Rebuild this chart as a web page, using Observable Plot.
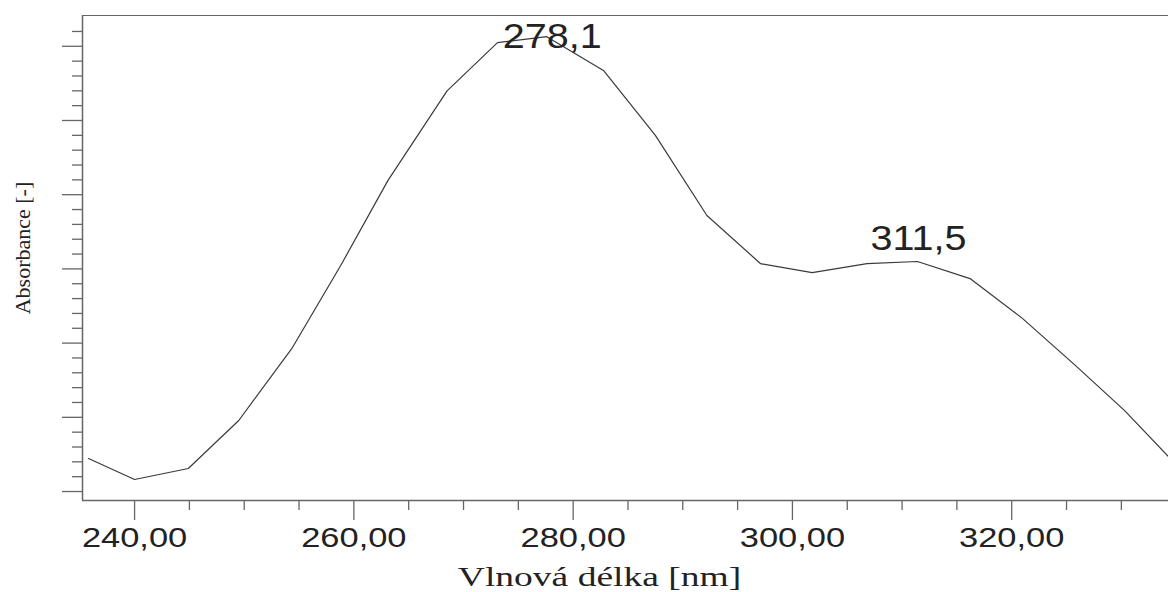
<!DOCTYPE html>
<html>
<head>
<meta charset="utf-8">
<script src="https://cdn.jsdelivr.net/npm/d3@7"></script>
<script src="https://cdn.jsdelivr.net/npm/@observablehq/plot@0.6"></script>
<style>
  html, body { margin: 0; padding: 0; background: #fff; }
  #chart svg { display: block; }
</style>
</head>
<body>
<div id="chart"></div>
<script>
// Spectrum (wavelength in nm, absorbance in arbitrary units)
const wavelength = [235.8, 240.0, 244.9, 249.5, 254.4, 258.8, 263.1, 268.5, 273.1, 277.6, 282.8, 287.5, 292.2, 297.1, 301.8, 306.8, 311.4, 316.2, 321.0, 325.8, 330.3, 334.3];
const absorbance = [0.0445, 0.0162, 0.031, 0.0957, 0.194, 0.3046, 0.419, 0.540, 0.605, 0.613, 0.567, 0.480, 0.372, 0.307, 0.295, 0.307, 0.310, 0.287, 0.233, 0.170, 0.109, 0.047];

// Peak annotations
const peakWavelength = [278.1, 311.5];
const peakAbsorbance = [0.613, 0.310];
const peakLabels = ["278,1", "311,5"];

// Axis ticks
const xMajorTicks = [240, 260, 280, 300, 320];
const xMinorTicks = [245, 250, 255, 265, 270, 275, 285, 290, 295, 305, 310, 315, 325, 330];
const yMajorTicks = [0, 0.1, 0.2, 0.3, 0.4, 0.5, 0.6];
const yMinorTicks = [0.02, 0.04, 0.06, 0.08, 0.12, 0.14, 0.16, 0.18, 0.22, 0.24, 0.26, 0.28, 0.32, 0.34, 0.36, 0.38, 0.42, 0.44, 0.46, 0.48, 0.52, 0.54, 0.56, 0.58, 0.62];

const xDomain = [235.25, 334.3];
const yDomain = [-0.0121, 0.6415];

const xLabel = "Vlnová délka [nm]";
const yLabel = "Absorbance [-]";

const sans = "'Liberation Sans', Arial, sans-serif";
const serif = "'Liberation Serif', 'Times New Roman', serif";
const axisColor = "#666";
const fmtX = d => d.toFixed(2).replace(".", ",");

const chart = Plot.plot({
  width: 1168,
  height: 592,
  marginLeft: 82,
  marginRight: 0,
  marginTop: 15,
  marginBottom: 92,
  style: {background: "#fff", color: "#222", overflow: "visible"},
  x: {domain: xDomain},
  y: {domain: yDomain},
  marks: [
    // frame lines
    Plot.ruleY([yDomain[0]], {stroke: axisColor, strokeWidth: 1.5}),
    Plot.ruleY([yDomain[1]], {stroke: axisColor, strokeWidth: 1.2}),
    Plot.ruleX([xDomain[0]], {stroke: axisColor, strokeWidth: 1.5}),
    // y ticks (no labels)
    Plot.axisY({ticks: yMinorTicks, tickSize: 10, tickFormat: () => "", stroke: axisColor, strokeWidth: 1.3, label: null}),
    Plot.axisY({ticks: yMajorTicks, tickSize: 20, tickFormat: () => "", stroke: axisColor, strokeWidth: 1.3, label: null}),
    // x ticks
    Plot.axisX({ticks: xMinorTicks, tickSize: 10, tickFormat: () => "", stroke: axisColor, strokeWidth: 1.3, label: null}),
    Plot.axisX({ticks: xMajorTicks, tickSize: 20, tickPadding: 7, tickFormat: fmtX,
      stroke: axisColor, strokeWidth: 1.3, fontSize: 28, fontFamily: sans, fill: "#222", label: null}),
    // spectrum
    Plot.line(absorbance, {x: wavelength, y: absorbance, stroke: "#3a3a3a", strokeWidth: 1.2}),
    // peak labels
    Plot.text([peakLabels[0]], {x: [peakWavelength[0]], y: [peakAbsorbance[0]], text: d => d, lineAnchor: "bottom", dy: 11,
      fontSize: 35, fontFamily: sans, fill: "#222"}),
    Plot.text([peakLabels[1]], {x: [peakWavelength[1]], y: [peakAbsorbance[1]], text: d => d, lineAnchor: "bottom", dy: -11,
      fontSize: 35, fontFamily: sans, fill: "#222"}),
    // axis titles
    Plot.text([xLabel], {frameAnchor: "bottom", text: d => d, lineAnchor: "bottom", textAnchor: "middle", dy: 85, dx: -26,
      fontSize: 28, fontFamily: serif, fill: "#222"}),
    Plot.text([yLabel], {frameAnchor: "left", text: d => d, rotate: -90, lineAnchor: "middle", textAnchor: "middle", dx: -60, dy: -10,
      fontSize: 22, fontFamily: serif, fill: "#222"})
  ]
});

// horizontal stretch of some texts to mimic the reference's aspect
function stretch(contents, s) {
  d3.select(chart).selectAll("text")
    .filter(function() { return contents.includes(this.textContent); })
    .attr("transform", function() {
      const t = this.getAttribute("transform") || "";
      return t + ` scale(${s},1)`;
    });
}
stretch(xMajorTicks.map(fmtX), 1.23);
stretch(peakLabels, 1.13);
stretch([xLabel], 1.34);

document.getElementById("chart").appendChild(chart);
</script>
</body>
</html>
